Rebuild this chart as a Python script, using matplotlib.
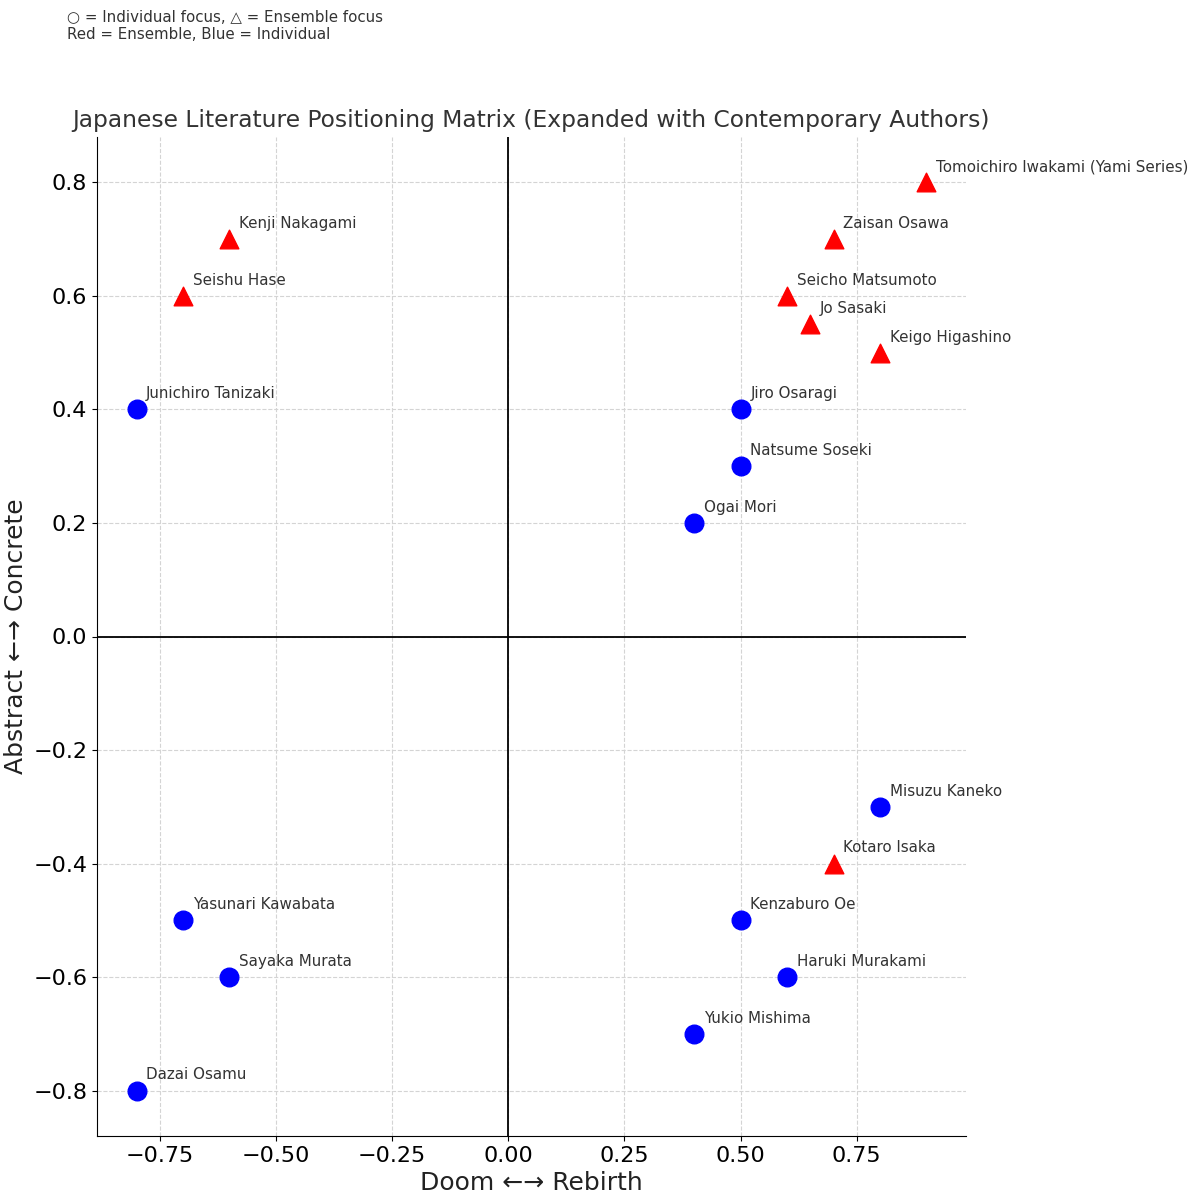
import matplotlib.pyplot as plt

# authors focused on the individual (blue circles)
indivNames = ["Junichiro Tanizaki", "Jiro Osaragi", "Natsume Soseki", "Ogai Mori",
              "Misuzu Kaneko", "Kenzaburo Oe", "Haruki Murakami", "Yukio Mishima",
              "Yasunari Kawabata", "Sayaka Murata", "Dazai Osamu"]
indivX = [-0.8, 0.5, 0.5, 0.4, 0.8, 0.5, 0.6, 0.4, -0.7, -0.6, -0.8]
indivY = [0.4, 0.4, 0.3, 0.2, -0.3, -0.5, -0.6, -0.7, -0.5, -0.6, -0.8]

# authors focused on the ensemble (red triangles)
ensNames = ["Kenji Nakagami", "Seishu Hase", "Tomoichiro Iwakami (Yami Series)",
            "Zaisan Osawa", "Seicho Matsumoto", "Jo Sasaki", "Keigo Higashino",
            "Kotaro Isaka"]
ensX = [-0.6, -0.7, 0.9, 0.7, 0.6, 0.65, 0.8, 0.7]
ensY = [0.7, 0.6, 0.8, 0.7, 0.6, 0.55, 0.5, -0.4]

fig = plt.figure(figsize=(12, 12.04), dpi=100)
ax = fig.add_axes([97 / 1200, 1 - 1136 / 1204, (966 - 97) / 1200, (1136 - 137) / 1204])

ax.scatter(indivX, indivY, s=180, c="blue", marker="o", zorder=3)
ax.scatter(ensX, ensY, s=180, c="red", marker="^", zorder=3)

for name, x, y in zip(indivNames, indivX, indivY):
    ax.annotate(name, (x, y), xytext=(7, 8), textcoords="offset points",
                fontsize=10.9, color="#333333")
for name, x, y in zip(ensNames, ensX, ensY):
    ax.annotate(name, (x, y), xytext=(7, 8), textcoords="offset points",
                fontsize=10.9, color="#333333")

ax.axhline(0, color="black", linewidth=1.3)
ax.axvline(0, color="black", linewidth=1.3)
ax.grid(True, linestyle="--", color="#d4d4d4", linewidth=0.8)
ax.set_axisbelow(True)

ax.spines["top"].set_visible(False)
ax.spines["right"].set_visible(False)
ax.tick_params(labelsize=16)

ax.set_xlabel("Doom ←→ Rebirth", fontsize=18, color="#222222", labelpad=4)
ax.set_ylabel("Abstract ←→ Concrete", fontsize=18, color="#222222")
ax.set_title("Japanese Literature Positioning Matrix (Expanded with Contemporary Authors)",
             fontsize=16.8, color="#333333", pad=7)

fig.text(67 / 1200, 1 - 10 / 1204,
         "○ = Individual focus, △ = Ensemble focus\nRed = Ensemble, Blue = Individual",
         fontsize=10.8, va="top", ha="left", color="#333333", linespacing=1.15)

fig.savefig("out.png", dpi=100)
